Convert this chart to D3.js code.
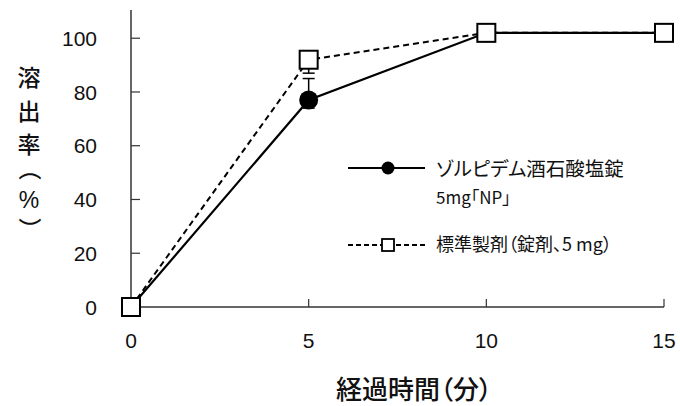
<!DOCTYPE html>
<html>
<head>
<meta charset="utf-8">
<script src="https://cdn.jsdelivr.net/npm/d3@7"></script>
<style>
body { margin: 0; background: #fff; }
text { font-family: "Liberation Sans", Arial, "Noto Sans CJK JP", sans-serif; fill: #111; }
.jp { font-family: "Noto Sans CJK JP", sans-serif; font-feature-settings: "palt"; }
</style>
</head>
<body>
<div id="chart"></div>
<script>
// time points (min)
var times = [0, 5, 10, 15];
// dissolution (%) test product and reference product
var npValues = [0, 77, 102, 102];
var npErrUp = [0, 8, 0, 0];
var npErrDown = [0, 3, 0, 0];
var refValues = [0, 92, 102, 102];
var refErrUp = [0, 2, 0, 0];
var refErrDown = [0, 5, 0, 0];
var xTicks = [0, 5, 10, 15];
var yTicks = [0, 20, 40, 60, 80, 100];
var npLabel = ["ゾルピデム酒石酸塩錠", "5mg「NP」"];
var refLabel = "標準製剤（錠剤、5 mg）";
var xTitle = "経過時間（分）";
var yTitle = ["溶", "出", "率", "（", "%", "）"];

function init() {
    var w = 680, h = 406;
    var svg = d3.select("#chart").append("svg")
        .attr("width", w).attr("height", h);

    var x = d3.scaleLinear().domain([0, 15]).range([131, 664]);
    var y = d3.scaleLinear().domain([0, 110.5]).range([307, 10]);

    //axes
    svg.append("line").attr("x1", x(0)).attr("x2", x(0))
        .attr("y1", y(0)).attr("y2", y(110.5))
        .attr("stroke", "#333").attr("stroke-width", 1.5);
    svg.append("line").attr("x1", x(0)).attr("x2", x(15))
        .attr("y1", y(0)).attr("y2", y(0))
        .attr("stroke", "#333").attr("stroke-width", 1.5);

    svg.selectAll(".ytick").data(yTicks.slice(1)).enter().append("line")
        .attr("x1", x(0)).attr("x2", x(0) + 9)
        .attr("y1", function (d) { return y(d); })
        .attr("y2", function (d) { return y(d); })
        .attr("stroke", "#333").attr("stroke-width", 1.2);
    svg.selectAll(".xtick").data(xTicks.slice(1)).enter().append("line")
        .attr("x1", function (d) { return x(d); })
        .attr("x2", function (d) { return x(d); })
        .attr("y1", y(0)).attr("y2", y(0) - 8)
        .attr("stroke", "#333").attr("stroke-width", 1.2);

    svg.selectAll(".ylab").data(yTicks).enter().append("text")
        .attr("x", 97).attr("y", function (d) { return y(d); })
        .attr("dy", "0.36em").attr("text-anchor", "end")
        .attr("font-size", 21).text(function (d) { return d; });
    svg.selectAll(".xlab").data(xTicks).enter().append("text")
        .attr("x", function (d) { return x(d); }).attr("y", 348)
        .attr("text-anchor", "middle")
        .attr("font-size", 21).text(function (d) { return d; });

    //axis titles
    svg.append("text").attr("class", "jp")
        .attr("x", 414).attr("y", 399).attr("text-anchor", "middle")
        .attr("font-size", 26).attr("font-weight", 500)
        .text(xTitle);
    //vertical title, one char per row (brackets turned 90deg)
    var yCenters = [78, 112, 145, 174, 200, 224];
    svg.selectAll(".ytitle").data(yTitle).enter().append("text")
        .attr("class", "jp")
        .attr("transform", function (d, i) {
            var t = "translate(29," + yCenters[i] + ")";
            return (d == "（" || d == "）") ? t + " rotate(90)" : t;
        })
        .attr("dy", "0.36em").attr("text-anchor", "middle")
        .attr("font-size", function (d) { return d == "%" ? 23 : 23; })
        .attr("font-weight", 500)
        .style("font-family", function (d) { return d == "%" ? "Liberation Sans, Arial, sans-serif" : null; })
        .text(function (d) { return d; });

    var line = d3.line()
        .x(function (d) { return x(d[0]); })
        .y(function (d) { return y(d[1]); });

    var npData = d3.zip(times, npValues);
    var refData = d3.zip(times, refValues);

    //error bars
    function errBars(vals, up, down) {
        times.forEach(function (t, i) {
            if (!up[i] && !down[i]) return;
            var cx = x(t);
            svg.append("line").attr("x1", cx).attr("x2", cx)
                .attr("y1", y(vals[i] - down[i])).attr("y2", y(vals[i] + up[i]))
                .attr("stroke", "#000").attr("stroke-width", 1.5);
            [vals[i] - down[i], vals[i] + up[i]].forEach(function (v) {
                svg.append("line").attr("x1", cx - 6).attr("x2", cx + 6)
                    .attr("y1", y(v)).attr("y2", y(v))
                    .attr("stroke", "#000").attr("stroke-width", 1.5);
            });
        });
    }
    errBars(npValues, npErrUp, npErrDown);
    errBars(refValues, refErrUp, refErrDown);

    svg.append("path").datum(npData).attr("d", line)
        .attr("fill", "none").attr("stroke", "#000").attr("stroke-width", 2.2);
    svg.append("path").datum(refData).attr("d", line)
        .attr("fill", "none").attr("stroke", "#000").attr("stroke-width", 2)
        .attr("stroke-dasharray", "6,4");

    svg.selectAll(".np").data(npData).enter().append("circle")
        .attr("cx", function (d) { return x(d[0]); })
        .attr("cy", function (d) { return y(d[1]); })
        .attr("r", 9.5).attr("fill", "#000");
    svg.selectAll(".ref").data(refData).enter().append("rect")
        .attr("x", function (d) { return x(d[0]) - 9; })
        .attr("y", function (d) { return y(d[1]) - 9; })
        .attr("width", 18).attr("height", 18)
        .attr("fill", "#fff").attr("stroke", "#000").attr("stroke-width", 2);

    //legend
    svg.append("line").attr("x1", 348).attr("x2", 425)
        .attr("y1", 168).attr("y2", 168)
        .attr("stroke", "#000").attr("stroke-width", 2.2);
    svg.append("circle").attr("cx", 388).attr("cy", 168).attr("r", 6.5).attr("fill", "#000");
    svg.append("text").attr("class", "jp").attr("x", 436).attr("y", 169)
        .attr("dy", "0.36em").attr("font-size", 19.5).attr("fill", "#222")
        .text(npLabel[0]);
    svg.append("text").attr("class", "jp").attr("x", 436).attr("y", 198)
        .attr("dy", "0.36em").attr("font-size", 17).attr("fill", "#222")
        .text(npLabel[1]);

    svg.append("line").attr("x1", 348).attr("x2", 425)
        .attr("y1", 245).attr("y2", 245)
        .attr("stroke", "#000").attr("stroke-width", 2)
        .attr("stroke-dasharray", "5,3");
    svg.append("rect").attr("x", 382).attr("y", 239).attr("width", 12).attr("height", 12)
        .attr("fill", "#fff").attr("stroke", "#000").attr("stroke-width", 1.8);
    svg.append("text").attr("class", "jp").attr("x", 436).attr("y", 245)
        .attr("dy", "0.36em").attr("font-size", 18).attr("fill", "#222")
        .text(refLabel);
}

window.onload = init;
</script>
</body>
</html>
